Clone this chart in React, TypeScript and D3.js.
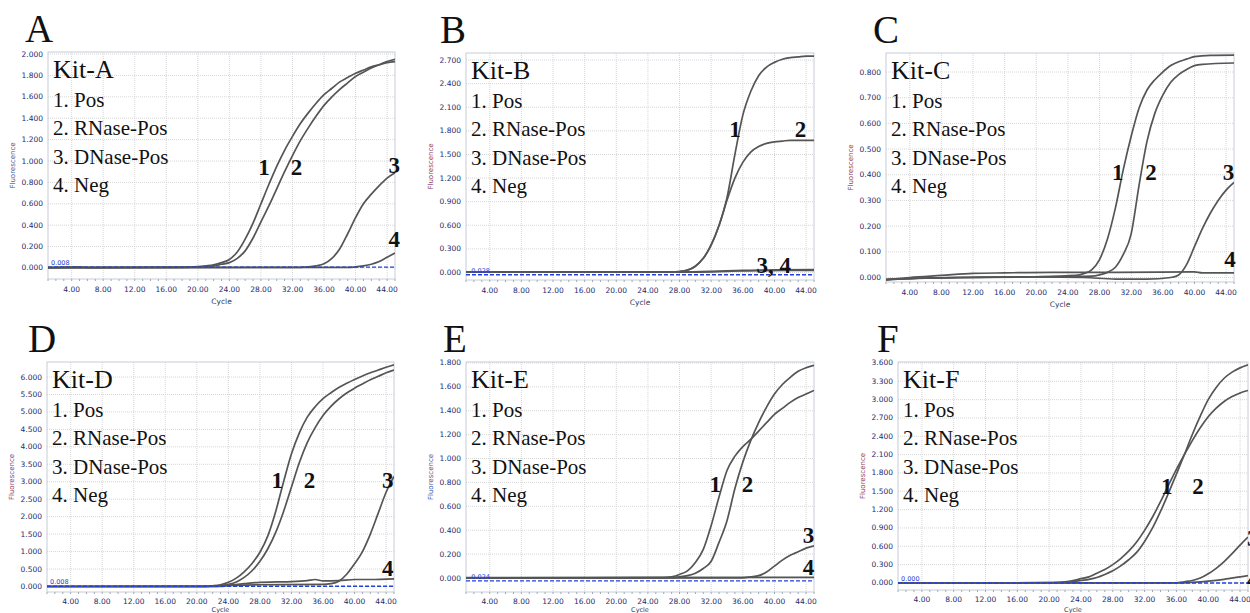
import React, { useRef, useEffect } from "react";
import { select, scaleLinear, line, curveMonotoneX, format } from "d3";

type Pt = [number, number];

// axis ticks and legend text
const cycleTicks = [4, 8, 12, 16, 20, 24, 28, 32, 36, 40, 44];
const minorCycles = Array.from({ length: 45 }, (_, i) => i + 1);
const legendItems = ["1. Pos", "2. RNase-Pos", "3. DNase-Pos", "4. Neg"];

const yTicksA = [0, 0.2, 0.4, 0.6, 0.8, 1.0, 1.2, 1.4, 1.6, 1.8, 2.0];
const yTicksB = [0, 0.3, 0.6, 0.9, 1.2, 1.5, 1.8, 2.1, 2.4, 2.7];
const yTicksC = [0, 0.1, 0.2, 0.3, 0.4, 0.5, 0.6, 0.7, 0.8];
const yTicksD = [0, 0.5, 1.0, 1.5, 2.0, 2.5, 3.0, 3.5, 4.0, 4.5, 5.0, 5.5, 6.0];
const yTicksE = [0, 0.2, 0.4, 0.6, 0.8, 1.0, 1.2, 1.4, 1.6, 1.8];
const yTicksF = [0, 0.3, 0.6, 0.9, 1.2, 1.5, 1.8, 2.1, 2.4, 2.7, 3.0, 3.3, 3.6];

// Kit-A  [cycle, fluorescence]
const kitAPos: Pt[] = [[1, 0.004], [5, 0.01], [6, 0.004], [18, 0.006], [20, 0.012], [21, 0.02], [22, 0.03], [23, 0.05], [24, 0.08], [25, 0.15], [26, 0.27], [27, 0.42], [28, 0.6], [29, 0.78], [30, 0.95], [31, 1.1], [32, 1.23], [33, 1.35], [34, 1.45], [35, 1.54], [36, 1.62], [37, 1.68], [38, 1.74], [39, 1.78], [40, 1.82], [41, 1.85], [42, 1.88], [43, 1.9], [44, 1.92], [45, 1.93]];
const kitARNase: Pt[] = [[1, 0.004], [20, 0.008], [22, 0.02], [23, 0.035], [24, 0.05], [25, 0.09], [26, 0.16], [27, 0.28], [28, 0.43], [29, 0.58], [30, 0.74], [31, 0.9], [32, 1.05], [33, 1.19], [34, 1.31], [35, 1.42], [36, 1.52], [37, 1.6], [38, 1.67], [39, 1.73], [40, 1.79], [41, 1.83], [42, 1.87], [43, 1.9], [44, 1.93], [45, 1.95]];
const kitADNase: Pt[] = [[1, 0.004], [33, 0.006], [34, 0.01], [35, 0.02], [36, 0.04], [37, 0.09], [38, 0.18], [39, 0.32], [40, 0.47], [41, 0.6], [42, 0.69], [43, 0.77], [44, 0.84], [45, 0.89]];
const kitANeg: Pt[] = [[1, 0.003], [39, 0.005], [40, 0.01], [41, 0.02], [42, 0.035], [43, 0.06], [44, 0.1], [45, 0.14]];

// Kit-B
const kitBPos: Pt[] = [[1, 0.005], [27, 0.006], [28, 0.012], [29, 0.03], [30, 0.08], [31, 0.18], [32, 0.35], [33, 0.6], [34, 0.95], [35, 1.5], [36, 2.0], [37, 2.3], [38, 2.5], [39, 2.61], [40, 2.67], [41, 2.71], [42, 2.73], [43, 2.74], [44, 2.75], [45, 2.75]];
const kitBRNase: Pt[] = [[1, 0.005], [27, 0.006], [28, 0.012], [29, 0.03], [30, 0.08], [31, 0.18], [32, 0.35], [33, 0.6], [34, 0.92], [35, 1.2], [36, 1.4], [37, 1.53], [38, 1.6], [39, 1.64], [40, 1.66], [41, 1.67], [42, 1.68], [45, 1.68]];
const kitBDNase: Pt[] = [[1, 0.005], [28, 0.008], [32, 0.015], [36, 0.028], [40, 0.033], [45, 0.036]];
const kitBNeg: Pt[] = [[1, 0.004], [30, 0.006], [34, 0.015], [38, 0.025], [45, 0.028]];

// Kit-C
const kitCPos: Pt[] = [[1, -0.008], [4, -0.004], [10, 0.0], [20, 0.003], [25, 0.008], [26, 0.015], [27, 0.03], [28, 0.07], [29, 0.15], [30, 0.27], [31, 0.42], [32, 0.55], [33, 0.66], [34, 0.73], [35, 0.77], [36, 0.8], [37, 0.825], [38, 0.84], [39, 0.85], [40, 0.86], [42, 0.865], [45, 0.866]];
const kitCRNase: Pt[] = [[1, -0.008], [4, -0.004], [10, 0.0], [20, 0.002], [27, 0.005], [28, 0.01], [29, 0.02], [30, 0.04], [31, 0.09], [32, 0.17], [33, 0.36], [34, 0.53], [35, 0.64], [36, 0.71], [37, 0.76], [38, 0.79], [39, 0.81], [40, 0.825], [41, 0.83], [45, 0.835]];
const kitCDNase: Pt[] = [[1, -0.008], [5, -0.003], [12, 0.0], [20, 0.002], [26, 0.0], [30, -0.006], [34, -0.006], [37, 0.0], [38, 0.01], [39, 0.05], [40, 0.12], [41, 0.19], [42, 0.25], [43, 0.3], [44, 0.34], [45, 0.37]];
const kitCNeg: Pt[] = [[1, -0.008], [4, 0.0], [8, 0.008], [12, 0.016], [16, 0.018], [22, 0.02], [30, 0.02], [40, 0.022], [41, 0.018], [45, 0.018]];

// Kit-D
const kitDPos: Pt[] = [[1, 0.0], [21, 0.005], [22, 0.02], [23, 0.05], [24, 0.12], [25, 0.24], [26, 0.42], [27, 0.66], [28, 0.98], [29, 1.45], [30, 2.15], [31, 3.0], [32, 3.8], [33, 4.4], [34, 4.85], [35, 5.15], [36, 5.38], [37, 5.55], [38, 5.7], [39, 5.82], [40, 5.93], [41, 6.03], [42, 6.12], [43, 6.2], [44, 6.28], [45, 6.35]];
const kitDRNase: Pt[] = [[1, 0.0], [22, 0.005], [23, 0.02], [24, 0.06], [25, 0.13], [26, 0.26], [27, 0.45], [28, 0.72], [29, 1.08], [30, 1.55], [31, 2.15], [32, 2.85], [33, 3.55], [34, 4.12], [35, 4.55], [36, 4.9], [37, 5.16], [38, 5.37], [39, 5.54], [40, 5.68], [41, 5.8], [42, 5.92], [43, 6.02], [44, 6.12], [45, 6.2]];
const kitDDNase: Pt[] = [[1, 0.0], [20, 0.0], [24, 0.03], [28, 0.05], [36, 0.06], [37, 0.08], [38, 0.15], [39, 0.35], [40, 0.65], [41, 1.0], [42, 1.5], [43, 2.1], [44, 2.7], [45, 3.15]];
const kitDNeg: Pt[] = [[1, 0.0], [23, 0.0], [24, 0.03], [26, 0.08], [28, 0.12], [30, 0.13], [32, 0.14], [34, 0.17], [35, 0.2], [36, 0.16], [38, 0.17], [40, 0.2], [42, 0.2], [45, 0.22]];

// Kit-E
const kitEPos: Pt[] = [[1, 0.0], [26, 0.003], [27, 0.01], [28, 0.03], [29, 0.06], [30, 0.13], [31, 0.24], [32, 0.44], [33, 0.68], [34, 0.9], [35, 1.02], [36, 1.1], [37, 1.16], [38, 1.23], [39, 1.3], [40, 1.37], [41, 1.42], [42, 1.47], [43, 1.51], [44, 1.54], [45, 1.57]];
const kitERNase: Pt[] = [[1, 0.0], [27, 0.003], [28, 0.01], [29, 0.02], [30, 0.04], [31, 0.08], [32, 0.14], [33, 0.3], [34, 0.48], [35, 0.75], [36, 0.97], [37, 1.15], [38, 1.3], [39, 1.43], [40, 1.54], [41, 1.62], [42, 1.68], [43, 1.73], [44, 1.76], [45, 1.78]];
const kitEDNase: Pt[] = [[1, 0.0], [36, 0.002], [37, 0.01], [38, 0.02], [39, 0.05], [40, 0.1], [41, 0.15], [42, 0.19], [43, 0.22], [44, 0.25], [45, 0.27]];
const kitENeg: Pt[] = [[1, 0.003], [45, 0.005]];

// Kit-F
const kitFPos: Pt[] = [[1, 0.0], [20, 0.005], [21, 0.01], [22, 0.02], [23, 0.04], [24, 0.07], [25, 0.1], [26, 0.16], [27, 0.22], [28, 0.3], [29, 0.4], [30, 0.52], [31, 0.67], [32, 0.86], [33, 1.08], [34, 1.33], [35, 1.6], [36, 1.86], [37, 2.1], [38, 2.33], [39, 2.54], [40, 2.72], [41, 2.86], [42, 2.97], [43, 3.05], [44, 3.11], [45, 3.15]];
const kitFRNase: Pt[] = [[1, 0.0], [21, 0.005], [22, 0.01], [23, 0.02], [24, 0.04], [25, 0.06], [26, 0.09], [27, 0.14], [28, 0.2], [29, 0.28], [30, 0.38], [31, 0.5], [32, 0.68], [33, 0.9], [34, 1.17], [35, 1.47], [36, 1.78], [37, 2.1], [38, 2.43], [39, 2.73], [40, 3.0], [41, 3.2], [42, 3.35], [43, 3.45], [44, 3.52], [45, 3.57]];
const kitFDNase: Pt[] = [[1, 0.0], [36, 0.003], [37, 0.02], [38, 0.04], [39, 0.08], [40, 0.15], [41, 0.24], [42, 0.35], [43, 0.48], [44, 0.62], [45, 0.75]];
const kitFNeg: Pt[] = [[1, 0.0], [37, 0.003], [38, 0.01], [40, 0.03], [42, 0.06], [44, 0.1], [45, 0.12]];

// curve number annotations: [text, cycle, value]
const numLabelsA: [string, number, number][] = [["1", 28.4, 0.87], ["2", 32.5, 0.87], ["3", 44.9, 0.89], ["4", 44.9, 0.2]];
const numLabelsB: [string, number, number][] = [["1", 35.0, 1.72], ["2", 43.3, 1.72], ["3, 4", 39.9, 0.0]];
const numLabelsC: [string, number, number][] = [["1", 30.3, 0.38], ["2", 34.5, 0.38], ["3", 44.3, 0.38], ["4", 44.5, 0.04]];
const numLabelsD: [string, number, number][] = [["1", 30.2, 2.83], ["2", 34.3, 2.83], ["3", 44.2, 2.83], ["4", 44.2, 0.29]];
const numLabelsE: [string, number, number][] = [["1", 32.5, 0.72], ["2", 36.6, 0.72], ["3", 44.3, 0.29], ["4", 44.3, 0.025]];
const numLabelsF: [string, number, number][] = [["1", 34.8, 1.45], ["2", 38.7, 1.45], ["3", 45.6, 0.6], ["4", 45.6, -0.07]];

const panels = [
  { letter: "A", kit: "Kit-A", curves: [kitAPos, kitARNase, kitADNase, kitANeg], yTicks: yTicksA, yDomain: [-0.103, 2.019], threshold: 0.008, thrText: "0.008", nums: numLabelsA, box: [48, 52, 395, 279], letterX: 25, titleColor: "#3b57a0" },
  { letter: "B", kit: "Kit-B", curves: [kitBPos, kitBRNase, kitBDNase, kitBNeg], yTicks: yTicksB, yDomain: [-0.095, 2.789], threshold: -0.028, thrText: "-0.028", nums: numLabelsB, box: [466, 53, 814, 280], letterX: 440, titleColor: "#8a3a5e" },
  { letter: "C", kit: "Kit-C", curves: [kitCPos, kitCRNase, kitCDNase, kitCNeg], yTicks: yTicksC, yDomain: [-0.0175, 0.874], threshold: null, thrText: "", nums: numLabelsC, box: [886, 53, 1234, 282], letterX: 873, titleColor: "#8a3a5e" },
  { letter: "D", kit: "Kit-D", curves: [kitDPos, kitDRNase, kitDDNase, kitDNeg], yTicks: yTicksD, yDomain: [-0.158, 6.43], threshold: 0.008, thrText: "0.008", nums: numLabelsD, box: [47, 362, 394, 592], letterX: 28, titleColor: "#8a3a5e" },
  { letter: "E", kit: "Kit-E", curves: [kitEPos, kitERNase, kitEDNase, kitENeg], yTicks: yTicksE, yDomain: [-0.117, 1.808], threshold: -0.024, thrText: "-0.024", nums: numLabelsE, box: [466, 362, 814, 592], letterX: 443, titleColor: "#3b57a0" },
  { letter: "F", kit: "Kit-F", curves: [kitFPos, kitFRNase, kitFDNase, kitFNeg], yTicks: yTicksF, yDomain: [-0.115, 3.616], threshold: 0.0, thrText: "0.000", nums: numLabelsF, box: [898, 362, 1248, 590], letterX: 877, titleColor: "#8a3a5e" },
];

const serif = "'Liberation Serif', 'Times New Roman', serif";
const sans = "'DejaVu Sans', Verdana, sans-serif";

export default function App() {
  const svgRef = useRef<SVGSVGElement>(null);

  useEffect(() => {
    const svg = select(svgRef.current);
    svg.selectAll("*").remove();
    const fmtY = format(".3f");
    const fmtX = format(".2f");

    panels.forEach((p) => {
      const [left, top, right, bottom] = p.box;
      const x = scaleLinear().domain([1, 45]).range([left, right]);
      const y = scaleLinear().domain(p.yDomain).range([bottom, top]);
      const g = svg.append("g");
      // bottom row: squeeze axis texts so "Cycle" stays inside the page
      const lowRow = bottom > 400;

      // panel letter
      g.append("text")
        .attr("x", p.letterX)
        .attr("y", top - 10)
        .attr("font-family", serif)
        .attr("font-size", 39)
        .attr("fill", "#111")
        .text(p.letter);

      // grid
      g.selectAll(".vgrid")
        .data(cycleTicks)
        .join("line")
        .attr("x1", (d) => x(d))
        .attr("x2", (d) => x(d))
        .attr("y1", top)
        .attr("y2", bottom)
        .attr("stroke", "#d6d6d6")
        .attr("stroke-dasharray", "1,1");
      g.selectAll(".hgrid")
        .data(p.yTicks)
        .join("line")
        .attr("x1", left)
        .attr("x2", right)
        .attr("y1", (d) => y(d))
        .attr("y2", (d) => y(d))
        .attr("stroke", "#d6d6d6")
        .attr("stroke-dasharray", "1,1");

      // frame
      g.append("rect")
        .attr("x", left)
        .attr("y", top)
        .attr("width", right - left)
        .attr("height", bottom - top)
        .attr("fill", "none")
        .attr("stroke", "#c6cdd8");

      // minor ticks on cycle axis
      g.selectAll(".minor")
        .data(minorCycles)
        .join("line")
        .attr("x1", (d) => x(d))
        .attr("x2", (d) => x(d))
        .attr("y1", bottom)
        .attr("y2", bottom + 2)
        .attr("stroke", "#a0a8b8");

      // y tick labels
      g.selectAll(".ylab")
        .data(p.yTicks)
        .join("text")
        .attr("x", left - 5)
        .attr("y", (d) => y(d) + 2.5)
        .attr("text-anchor", "end")
        .attr("font-family", sans)
        .attr("font-size", 7.5)
        .attr("fill", "#1e2b6e")
        .text((d) => fmtY(d));

      // x tick labels
      g.selectAll(".xlab")
        .data(cycleTicks)
        .join("text")
        .attr("x", (d) => x(d))
        .attr("y", bottom + (lowRow ? 11.5 : 13))
        .attr("text-anchor", "middle")
        .attr("font-family", sans)
        .attr("font-size", 7.5)
        .attr("fill", "#1e2b6e")
        .text((d) => fmtX(d));

      g.append("text")
        .attr("x", (left + right) / 2)
        .attr("y", lowRow ? 612 : bottom + 25)
        .attr("text-anchor", "middle")
        .attr("font-family", sans)
        .attr("font-size", lowRow ? 6.5 : 7.5)
        .attr("fill", "#333a55")
        .text("Cycle");

      g.append("text")
        .attr("transform", `translate(${left - 33},${(top + bottom) / 2}) rotate(-90)`)
        .attr("text-anchor", "middle")
        .attr("font-family", sans)
        .attr("font-size", 7)
        .attr("fill", p.titleColor)
        .text("Fluorescence");

      // curves
      const clipId = `clip-${p.letter}`;
      g.append("clipPath")
        .attr("id", clipId)
        .append("rect")
        .attr("x", left)
        .attr("y", top)
        .attr("width", right - left)
        .attr("height", bottom - top);

      const lineGen = line<Pt>()
        .x((d) => x(d[0]))
        .y((d) => y(d[1]))
        .curve(curveMonotoneX);

      g.append("g")
        .attr("clip-path", `url(#${clipId})`)
        .selectAll("path")
        .data(p.curves)
        .join("path")
        .attr("d", (d) => lineGen(d))
        .attr("fill", "none")
        .attr("stroke", "#555")
        .attr("stroke-width", 1.7);

      // threshold
      if (p.threshold !== null) {
        g.append("line")
          .attr("x1", left)
          .attr("x2", right)
          .attr("y1", y(p.threshold))
          .attr("y2", y(p.threshold))
          .attr("stroke", "#2440d8")
          .attr("stroke-width", 1.4)
          .attr("stroke-dasharray", "4,2");
        g.append("text")
          .attr("x", left + 3)
          .attr("y", y(p.threshold) - 2)
          .attr("font-family", sans)
          .attr("font-size", 6.5)
          .attr("fill", "#2440d8")
          .text(p.thrText);
      }

      // legend
      g.append("text")
        .attr("x", left + 5)
        .attr("y", top + 26)
        .attr("font-family", serif)
        .attr("font-size", 26)
        .attr("fill", "#111")
        .text(p.kit);
      g.selectAll(".leg")
        .data(legendItems)
        .join("text")
        .attr("x", left + 5)
        .attr("y", (d, i) => top + 55 + i * 28.4)
        .attr("font-family", serif)
        .attr("font-size", 21)
        .attr("fill", "#111")
        .text((d) => d);

      // curve numbers
      g.selectAll(".num")
        .data(p.nums)
        .join("text")
        .attr("x", (d) => x(d[1]))
        .attr("y", (d) => y(d[2]))
        .attr("text-anchor", "middle")
        .attr("font-family", serif)
        .attr("font-weight", "bold")
        .attr("font-size", 23)
        .attr("fill", "#111")
        .text((d) => d[0]);
    });
  }, []);

  return (
    <svg
      ref={svgRef}
      width={1250}
      height={613}
      style={{ position: "absolute", left: 0, top: 0, background: "#fff" }}
    />
  );
}
